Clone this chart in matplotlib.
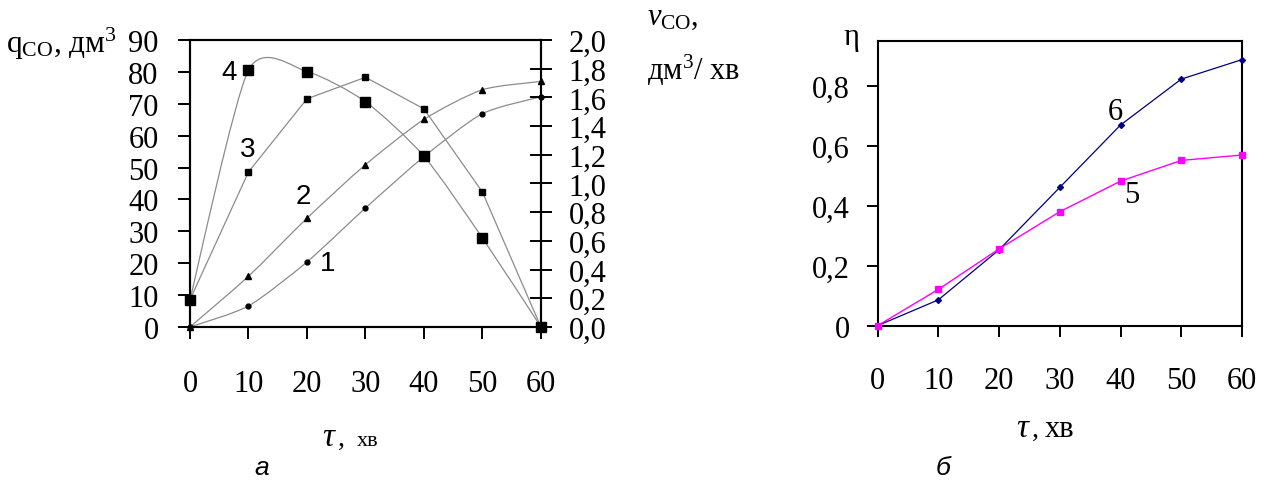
import matplotlib
matplotlib.use('Agg')

import numpy as np
import matplotlib.pyplot as plt
from matplotlib.path import Path
from matplotlib.patches import PathPatch

plt.rcParams['font.family'] = ['Liberation Serif', 'DejaVu Serif']
plt.rcParams['mathtext.fontset'] = 'custom'
plt.rcParams['mathtext.rm'] = 'Liberation Serif'
plt.rcParams['mathtext.it'] = 'Liberation Serif:italic'

# time, min
tau = [0, 10, 20, 30, 40, 50, 60]

# panel a: q_CO, dm3 (left axis)
q_1 = [0, 6.6, 20.4, 37.3, 53.4, 66.9, 72.2]
q_2 = [0, 15.9, 34.1, 50.9, 65.1, 74.4, 77.0]
# panel a: v_CO, dm3/min (right axis)
v_3 = [0.19, 1.08, 1.59, 1.74, 1.52, 0.94, 0.0]
v_4 = [0.19, 1.79, 1.78, 1.57, 1.19, 0.62, 0.0]

# panel b: eta
eta_5 = [0, 0.121, 0.256, 0.380, 0.482, 0.551, 0.569]
eta_6 = [0, 0.086, 0.253, 0.461, 0.669, 0.822, 0.887]

q_ticks = list(range(0, 91, 10))
v_ticks = [0.0, 0.2, 0.4, 0.6, 0.8, 1.0, 1.2, 1.4, 1.6, 1.8, 2.0]
eta_ticks = [0, 0.2, 0.4, 0.6, 0.8]


def smooth_path(xs, ys, k=0.12):
    # smoothed line like in Excel: cubic bezier segments through the points
    pts = np.column_stack([xs, ys]).astype(float)
    n = len(pts)
    verts = [pts[0]]
    codes = [Path.MOVETO]
    for i in range(n - 1):
        p0 = pts[max(i - 1, 0)]
        p1 = pts[i]
        p2 = pts[i + 1]
        p3 = pts[min(i + 2, n - 1)]
        verts += [p1 + (p2 - p0) * k, p2 - (p3 - p1) * k, p2]
        codes += [Path.CURVE4] * 3
    return Path(verts, codes)


def comma(v, nd):
    return f"{v:.{nd}f}".replace('.', ',')


fig = plt.figure(figsize=(12.74, 4.81), dpi=100)

# ---------------- panel a ----------------
ax = fig.add_axes([0.1491, 0.3181, 0.2755, 0.5967])
ax2 = ax.twinx()
ax.set_xlim(0, 60)
ax.set_ylim(0, 90)
ax2.set_ylim(0, 2.0)

grey = '#8c8c8c'
for ys, a in [(q_1, ax), (q_2, ax), (v_4, ax2)]:
    a.add_patch(PathPatch(smooth_path(tau, ys), fill=False, edgecolor=grey,
                          lw=0.9, zorder=2))
ax2.plot(tau, v_3, color=grey, lw=0.9, zorder=2)

ax.plot(tau, q_1, ls='none', marker='o', ms=3.5, color='black', clip_on=False, zorder=3)
ax.plot(tau, q_2, ls='none', marker='^', ms=4.5, color='black', clip_on=False, zorder=3)
ax2.plot(tau, v_3, ls='none', marker='s', ms=4.2, color='black', clip_on=False, zorder=3)
ax2.plot(tau, v_4, ls='none', marker='s', ms=7.5, color='black', clip_on=False, zorder=3)

ax.set_xticks(tau)
ax.set_xticklabels([str(t) for t in tau])
ax.set_yticks(q_ticks)
ax.set_yticklabels([str(t) for t in q_ticks])
ax2.set_yticks(v_ticks)
ax2.set_yticklabels([comma(t, 1) for t in v_ticks])

ax.tick_params(axis='x', direction='out', length=8.6, width=1.4, pad=22, labelsize=22)
ax.tick_params(axis='y', direction='out', length=8.6, width=1.4, pad=14, labelsize=22)
ax2.tick_params(axis='y', direction='inout', length=16, width=1.4, pad=12, labelsize=22)
for a in (ax, ax2):
    for s in a.spines.values():
        s.set_linewidth(1.5)

ax.text(6.7, 80.0, '4', fontsize=20, family='Liberation Sans', ha='center', va='center')
ax.text(9.9, 55.8, '3', fontsize=20, family='Liberation Sans', ha='center', va='center')
ax.text(19.3, 41.1, '2', fontsize=20, family='Liberation Sans', ha='center', va='center')
ax.text(23.6, 20.1, '1', fontsize=20, family='Liberation Sans', ha='center', va='center')

fig.text(6 / 1274, 1 - 53 / 481, r'q$_{\mathrm{CO}}$, дм$^{3}$', fontsize=22.5,
         ha='left', va='baseline')
fig.text(647 / 1274, 1 - 25 / 481, r'$v_{\mathrm{CO}}$,', fontsize=22,
         ha='left', va='baseline')
fig.text(647 / 1274, 1 - 80 / 481, r'дм$^{3}$/ хв', fontsize=22,
         ha='left', va='baseline')
fig.text(322 / 1274, 1 - 446 / 481, 'τ', fontsize=24, style='italic',
         ha='left', va='baseline')
fig.text(338 / 1274, 1 - 446 / 481, ',', fontsize=20, ha='left', va='baseline')
fig.text(357 / 1274, 1 - 446 / 481, 'хв', fontsize=16, ha='left', va='baseline')
fig.text(262 / 1274, 1 - 475 / 481, 'а', fontsize=19, family='Liberation Sans',
         style='italic', ha='center', va='baseline')

# ---------------- panel b ----------------
bx = fig.add_axes([0.6888, 0.3208, 0.2861, 0.5925])
bx.set_xlim(0, 60)
bx.set_ylim(0, 0.95)

bx.plot(tau, eta_6, color='#000080', lw=0.9, marker='D', ms=3, clip_on=False, zorder=3)
bx.plot(tau, eta_5, color='#ff00ff', lw=1.0, marker='s', ms=4.5, clip_on=False, zorder=3)

bx.set_xticks(tau)
bx.set_xticklabels([str(t) for t in tau])
bx.set_yticks(eta_ticks)
bx.set_yticklabels(['0'] + [comma(t, 1) for t in eta_ticks[1:]])
bx.tick_params(axis='x', direction='out', length=8, width=1.4, pad=21, labelsize=22)
bx.tick_params(axis='y', direction='out', length=8, width=1.4, pad=12, labelsize=22)
for s in bx.spines.values():
    s.set_linewidth(1.5)

bx.text(39.1, 0.713, '6', fontsize=22, ha='center', va='center')
bx.text(41.8, 0.437, '5', fontsize=22, ha='center', va='center')

fig.text(843 / 1274, 1 - 45 / 481, 'η', fontsize=22, ha='left', va='baseline')
fig.text(1016 / 1274, 1 - 437 / 481, 'τ', fontsize=24, style='italic',
         ha='left', va='baseline')
fig.text(1032 / 1274, 1 - 437 / 481, ',', fontsize=20, ha='left', va='baseline')
fig.text(1045 / 1274, 1 - 437 / 481, 'хв', fontsize=22, ha='left', va='baseline')
fig.text(943 / 1274, 1 - 475 / 481, 'б', fontsize=19, family='Liberation Sans',
         style='italic', ha='center', va='baseline')

fig.savefig('out.png', dpi=100)
